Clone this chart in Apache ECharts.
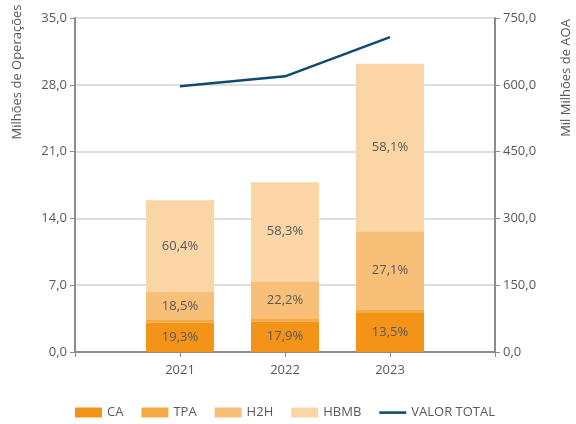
<!DOCTYPE html>
<html>
<head>
<meta charset="utf-8">
<script src="https://cdn.jsdelivr.net/npm/echarts@6/dist/echarts.min.js"></script>
<style>
  html, body { margin: 0; padding: 0; background: #fff; }
  #chart { width: 576px; height: 424px; }
</style>
</head>
<body>
<div id="chart"></div>
<script>
// anos (com categorias vazias nas pontas para o espaçamento)
const years = ['', '2021', '2022', '2023', ''];

// milhões de operações por canal
const ca   = [null, 3.07, 3.19, 4.08, null];
const tpa  = [null, 0.29, 0.28, 0.39, null];
const h2h  = [null, 2.94, 3.95, 8.18, null];
const hbmb = [null, 9.60, 10.38, 17.55, null];

// percentagens mostradas nas barras
const caPct   = ['', '19,3%', '17,9%', '13,5%', ''];
const h2hPct  = ['', '18,5%', '22,2%', '27,1%', ''];
const hbmbPct = ['', '60,4%', '58,3%', '58,1%', ''];

// valor total (mil milhões de AOA)
const valorTotal = [null, 597, 619, 707, null];

const font = '"Open Sans", sans-serif';
const txt = '#595959';

const pctLabel = (arr) => ({
    show: true,
    position: 'inside',
    color: txt,
    fontSize: 13,
    fontFamily: font,
    formatter: p => arr[p.dataIndex]
});

const fmt = v => v.toFixed(1).replace('.', ',');

const chart = echarts.init(document.getElementById('chart'));
chart.setOption({
    backgroundColor: '#fff',
    animation: false,
    grid: { left: 75, right: 81, top: 18, bottom: 72 },
    legend: {
        bottom: 0,
        left: 70,
        itemWidth: 27,
        itemHeight: 10,
        itemGap: 18,
        textStyle: { color: txt, fontSize: 13, fontFamily: font },
        data: [
            { name: 'CA', icon: 'rect' },
            { name: 'TPA', icon: 'rect' },
            { name: 'H2H', icon: 'rect' },
            { name: 'HBMB', icon: 'rect' },
            { name: 'VALOR TOTAL', icon: 'path://M0,0 M27,10 M0,3.8 L27,3.8 L27,6.4 L0,6.4 Z' }
        ]
    },
    xAxis: {
        type: 'category',
        data: years,
        boundaryGap: false,
        axisLine: { lineStyle: { color: '#8c8c8c', width: 2 } },
        axisTick: { show: true, length: 5, lineStyle: { color: '#8c8c8c' } },
        axisLabel: { color: txt, fontSize: 13, fontFamily: font, margin: 12 },
        splitLine: { show: false }
    },
    yAxis: [
        {
            type: 'value',
            min: 0, max: 35, interval: 7,
            axisLine: { show: true, lineStyle: { color: '#8c8c8c', width: 2 } },
            axisTick: { show: true, length: 5, lineStyle: { color: '#8c8c8c' } },
            axisLabel: { color: txt, fontSize: 13, fontFamily: font, formatter: fmt, margin: 8 },
            splitLine: { lineStyle: { color: '#dedede', width: 2 } }
        },
        {
            type: 'value',
            min: 0, max: 750, interval: 150,
            axisLine: { show: true, lineStyle: { color: '#8c8c8c', width: 2 } },
            axisTick: { show: true, length: 5, lineStyle: { color: '#8c8c8c' } },
            axisLabel: { color: txt, fontSize: 13, fontFamily: font, formatter: fmt, margin: 8 },
            splitLine: { show: false }
        }
    ],
    graphic: [
        {
            type: 'text', x: 17, y: 72, rotation: Math.PI / 2,
            style: { text: 'Milhões de Operações', fill: txt, font: '13px ' + font, textAlign: 'center', textVerticalAlign: 'middle' }
        },
        {
            type: 'text', x: 566, y: 78, rotation: Math.PI / 2,
            style: { text: 'Mil Milhões de AOA', fill: txt, font: '13px ' + font, textAlign: 'center', textVerticalAlign: 'middle' }
        }
    ],
    series: [
        { name: 'CA', type: 'bar', stack: 'op', data: ca, barWidth: 68,
          itemStyle: { color: '#f39419' }, label: pctLabel(caPct) },
        { name: 'TPA', type: 'bar', stack: 'op', data: tpa, barWidth: 68,
          itemStyle: { color: '#f5a947' } },
        { name: 'H2H', type: 'bar', stack: 'op', data: h2h, barWidth: 68,
          itemStyle: { color: '#f8bf78' }, label: pctLabel(h2hPct) },
        { name: 'HBMB', type: 'bar', stack: 'op', data: hbmb, barWidth: 68,
          itemStyle: { color: '#fad5a5' }, label: pctLabel(hbmbPct) },
        { name: 'VALOR TOTAL', type: 'line', yAxisIndex: 1, data: valorTotal,
          showSymbol: false, symbol: 'none',
          lineStyle: { color: '#0e4a6e', width: 2.5 }, itemStyle: { color: '#0e4a6e' } }
    ]
});
</script>
</body>
</html>
